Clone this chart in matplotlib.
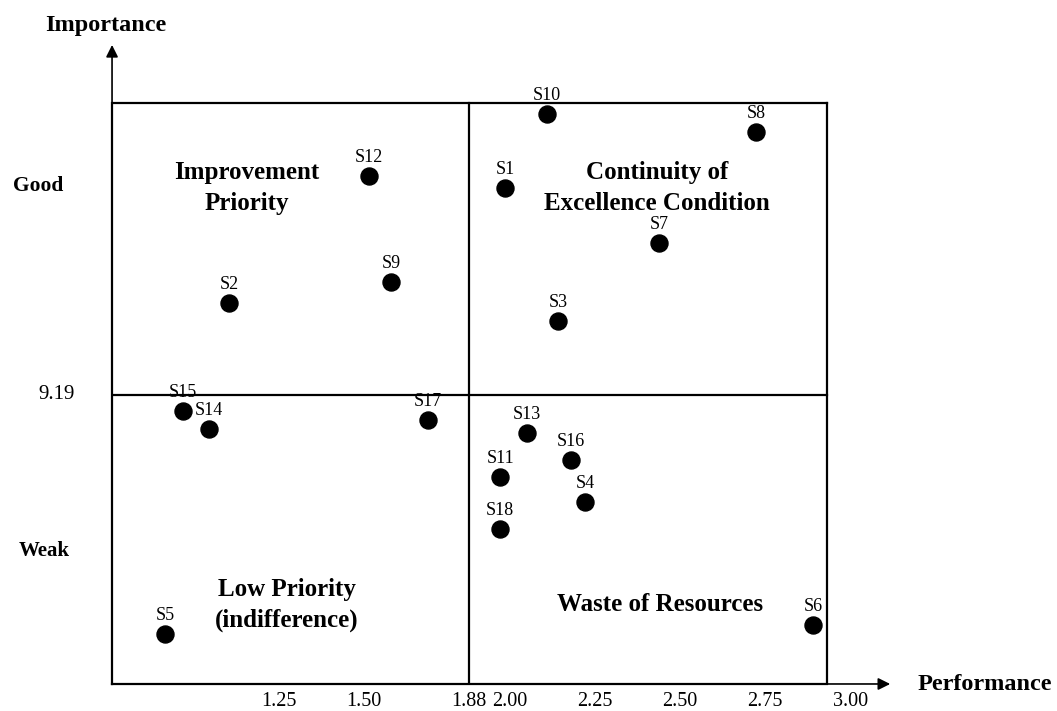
import matplotlib
matplotlib.use("Agg")
import matplotlib.pyplot as plt

plt.rcParams['font.family'] = ['Liberation Serif', 'DejaVu Serif']

# ---- data ----
labels = ["S1", "S2", "S3", "S4", "S5", "S6", "S7", "S8", "S9", "S10",
          "S11", "S12", "S13", "S14", "S15", "S16", "S17", "S18"]
performance = [1.985, 1.174, 2.141, 2.221, 0.985, 2.891, 2.438, 2.724, 1.650, 2.109,
               1.971, 1.585, 2.050, 1.115, 1.038, 2.179, 1.759, 1.971]
importance = [10.018, 9.558, 9.486, 8.762, 8.234, 8.270, 9.798, 10.242, 9.642, 10.314,
              8.862, 10.066, 9.038, 9.054, 9.126, 8.930, 9.090, 8.654]

perf_mean = 1.88
imp_mean = 9.19
x_tick_labels = ["1.25", "1.50", "1.88", "2.00", "2.25", "2.50", "2.75", "3.00"]
x_tick_pos = [1.32, 1.57, 1.88, 2.00, 2.25, 2.50, 2.75, 3.00]

quadrants = [
    ("Improvement\nPriority", 1.224, 10.018),
    ("Continuity of\nExcellence Condition", 2.432, 10.018),
    ("Low Priority\n(indifference)", 1.344, 8.35),
    ("Waste of Resources", 2.441, 8.35),
]

# ---- layout ----
x_left, x_right = 0.829, 3.147
y_bottom, y_top = 8.034, 10.61
box_right = 2.932
box_top = 10.358

fig = plt.figure(figsize=(10.57, 7.11), dpi=100)
ax = fig.add_axes([0.106, 0.038, 0.7455, 0.9058])
ax.set_xlim(x_left, x_right)
ax.set_ylim(y_bottom, y_top)
for s in ax.spines.values():
    s.set_visible(False)

lw = 1.6
# box
ax.plot([x_left, box_right], [box_top, box_top], color='black', lw=lw, solid_capstyle='projecting')
ax.plot([box_right, box_right], [y_bottom, box_top], color='black', lw=lw, solid_capstyle='projecting')
# quadrant lines
ax.plot([perf_mean, perf_mean], [y_bottom, box_top], color='black', lw=lw)
ax.plot([x_left, box_right], [imp_mean, imp_mean], color='black', lw=lw)
# axes with arrows
ax.plot([x_left, x_left], [y_bottom, box_top], color='black', lw=lw, clip_on=False)
ax.plot([x_left, box_right], [y_bottom, y_bottom], color='black', lw=lw, clip_on=False)
ax.annotate("", xy=(3.118, y_bottom), xytext=(box_right, y_bottom),
            arrowprops=dict(arrowstyle='-|>', color='black', lw=1.2,
                            mutation_scale=18, shrinkA=0, shrinkB=0),
            annotation_clip=False)
ax.annotate("", xy=(x_left, 10.59), xytext=(x_left, box_top),
            arrowprops=dict(arrowstyle='-|>', color='black', lw=1.2,
                            mutation_scale=18, shrinkA=0, shrinkB=0),
            annotation_clip=False)

# points
ax.scatter(performance, importance, s=150, color='black', zorder=3, clip_on=False)
for lab, x, y in zip(labels, performance, importance):
    ax.annotate(lab, (x, y), xytext=(0, 7), textcoords='offset points',
                ha='center', va='bottom', fontsize=13)

# quadrant names
for txt, x, y in quadrants:
    ax.text(x, y, txt, ha='center', va='center', fontsize=18,
            fontweight='bold', linespacing=1.4)

# ticks
ax.set_xticks(x_tick_pos)
ax.set_xticklabels(x_tick_labels, fontsize=14.5)
ax.tick_params(axis='x', length=0, pad=6)
ax.set_yticks([])

yt = ax.get_yaxis_transform()
ax.text(-0.07, imp_mean, "9.19", transform=yt, ha='center', va='center', fontsize=15)
ax.text(-0.094, 10.026, "Good", transform=yt, ha='center', va='center',
        fontsize=15.5, fontweight='bold')
ax.text(-0.086, 8.566, "Weak", transform=yt, ha='center', va='center',
        fontsize=15, fontweight='bold')

fig.text(106 / 1057, 1 - 25 / 711, "Importance", ha='center', va='center',
         fontsize=17.5, fontweight='bold')
fig.text(985 / 1057, 1 - 684 / 711, "Performance", ha='center', va='center',
         fontsize=17.5, fontweight='bold')

fig.savefig("out.png", dpi=100)
